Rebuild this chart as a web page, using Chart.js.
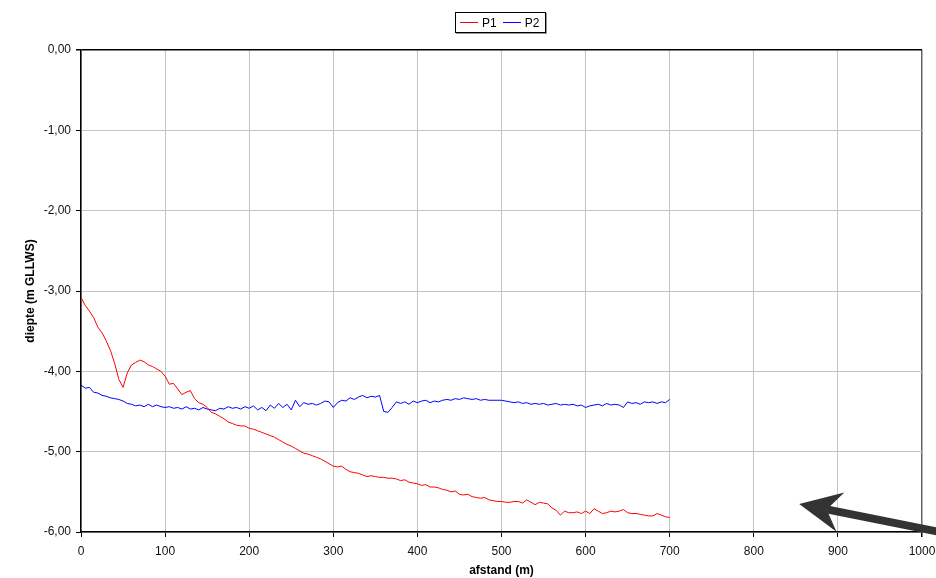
<!DOCTYPE html>
<html><head><meta charset="utf-8">
<script src="https://cdn.jsdelivr.net/npm/chart.js@4.4.0/dist/chart.umd.min.js"></script>
<style>
html,body{margin:0;padding:0;background:#fff;}
#wrap{position:relative;width:936px;height:578px;}
#legend{position:absolute;left:455px;top:12px;width:89px;height:19px;border:1px solid #000;box-shadow:1px 1px 0 #999;font-family:"Liberation Sans",Arial,sans-serif;font-size:12px;color:#000;display:flex;align-items:center;background:#fff;}
.item{display:flex;align-items:center;}
.sw{width:18px;height:0;border-top:1px solid;margin-right:4px;}
</style></head>
<body>
<div id="wrap">
<canvas id="c" width="936" height="578"></canvas>
<div id="legend">
  <div class="item" style="margin-left:4px"><span class="sw" style="border-color:#ff0000"></span><span>P1</span></div>
  <div class="item" style="margin-left:6px"><span class="sw" style="border-color:#0000ff"></span><span>P2</span></div>
</div>
</div>
<script>
const distances = [0,5,10,15,20,25,30,35,40,45,50,55,60,65,70,75,80,85,90,95,
100,105,110,115,120,125,130,135,140,145,150,155,160,165,170,175,180,185,190,195,
200,205,210,215,220,225,230,235,240,245,250,255,260,265,270,275,280,285,290,295,
300,305,310,315,320,325,330,335,340,345,350,355,360,365,370,375,380,385,390,395,
400,405,410,415,420,425,430,435,440,445,450,455,460,465,470,475,480,485,490,495,
500,505,510,515,520,525,530,535,540,545,550,555,560,565,570,575,580,585,590,595,
600,605,610,615,620,625,630,635,640,645,650,655,660,665,670,675,680,685,690,695,700];

const p1Depth = [-3.08,-3.18,-3.25,-3.33,-3.45,-3.52,-3.62,-3.74,-3.90,-4.10,-4.20,-4.02,-3.92,-3.89,-3.86,-3.88,-3.92,-3.94,-3.97,-4.00,
-4.06,-4.16,-4.15,-4.22,-4.29,-4.26,-4.24,-4.34,-4.39,-4.41,-4.45,-4.51,-4.53,-4.56,-4.59,-4.63,-4.65,-4.67,-4.68,-4.68,
-4.71,-4.72,-4.74,-4.76,-4.78,-4.80,-4.82,-4.85,-4.88,-4.91,-4.93,-4.96,-4.99,-5.02,-5.03,-5.05,-5.07,-5.09,-5.12,-5.15,
-5.18,-5.19,-5.18,-5.22,-5.25,-5.26,-5.27,-5.29,-5.31,-5.30,-5.31,-5.32,-5.32,-5.33,-5.33,-5.34,-5.36,-5.35,-5.38,-5.39,
-5.40,-5.42,-5.41,-5.44,-5.44,-5.45,-5.47,-5.48,-5.50,-5.49,-5.53,-5.54,-5.53,-5.56,-5.57,-5.58,-5.57,-5.60,-5.61,-5.62,
-5.62,-5.63,-5.63,-5.62,-5.62,-5.64,-5.60,-5.63,-5.66,-5.63,-5.64,-5.65,-5.70,-5.73,-5.79,-5.74,-5.76,-5.76,-5.75,-5.77,
-5.74,-5.77,-5.71,-5.74,-5.77,-5.76,-5.74,-5.75,-5.74,-5.72,-5.76,-5.77,-5.77,-5.78,-5.79,-5.80,-5.80,-5.77,-5.79,-5.81,-5.82];

const p2Depth = [-4.17,-4.21,-4.20,-4.26,-4.27,-4.30,-4.31,-4.33,-4.34,-4.35,-4.37,-4.40,-4.41,-4.43,-4.42,-4.44,-4.41,-4.44,-4.42,-4.44,
-4.45,-4.44,-4.46,-4.45,-4.47,-4.44,-4.47,-4.46,-4.48,-4.45,-4.47,-4.48,-4.49,-4.46,-4.47,-4.44,-4.46,-4.45,-4.47,-4.44,
-4.46,-4.43,-4.48,-4.45,-4.49,-4.42,-4.46,-4.40,-4.45,-4.41,-4.48,-4.36,-4.44,-4.39,-4.41,-4.40,-4.42,-4.40,-4.37,-4.38,
-4.45,-4.39,-4.36,-4.37,-4.33,-4.35,-4.32,-4.30,-4.33,-4.31,-4.32,-4.30,-4.50,-4.51,-4.45,-4.38,-4.40,-4.38,-4.41,-4.37,
-4.39,-4.37,-4.36,-4.39,-4.37,-4.38,-4.36,-4.35,-4.36,-4.34,-4.35,-4.33,-4.34,-4.35,-4.34,-4.36,-4.35,-4.36,-4.36,-4.36,
-4.36,-4.37,-4.38,-4.39,-4.38,-4.40,-4.39,-4.41,-4.40,-4.41,-4.40,-4.42,-4.41,-4.40,-4.42,-4.41,-4.42,-4.41,-4.43,-4.42,
-4.45,-4.43,-4.42,-4.41,-4.43,-4.40,-4.42,-4.41,-4.42,-4.45,-4.38,-4.40,-4.39,-4.41,-4.38,-4.39,-4.38,-4.40,-4.38,-4.39,-4.35];

const yTickLabels = {'-6':'-6,00','-5':'-5,00','-4':'-4,00','-3':'-3,00','-2':'-2,00','-1':'-1,00','0':'0,00'};
const xTickLabels = {0:'0',100:'100',200:'200',300:'300',400:'400',500:'500',600:'600',700:'700',800:'800',900:'900',1000:'1000'};
const arrowTip = [854, -5.65];
const arrowTail = [1040, -6.04];

const FONT = '"Liberation Sans", Arial, sans-serif';

const arrowPlugin = {
  id: 'arrow',
  afterDraw(chart) {
    const {ctx, scales: {x, y}} = chart;
    const tx = x.getPixelForValue(arrowTip[0]), ty = y.getPixelForValue(arrowTip[1]);
    const ex = x.getPixelForValue(arrowTail[0]), ey = y.getPixelForValue(arrowTail[1]);
    const ang = Math.atan2(ey - ty, ex - tx);
    const ux = Math.cos(ang), uy = Math.sin(ang), nx = -uy, ny = ux;
    const headLen = 42, headHalf = 20, notch = 28;
    ctx.save();
    ctx.fillStyle = '#333'; ctx.strokeStyle = '#333'; ctx.lineWidth = 8;
    ctx.beginPath();
    ctx.moveTo(tx + ux * notch, ty + uy * notch);
    ctx.lineTo(ex, ey);
    ctx.stroke();
    ctx.beginPath();
    ctx.moveTo(tx, ty);
    ctx.lineTo(tx + ux * headLen - nx * headHalf, ty + uy * headLen - ny * headHalf);
    ctx.lineTo(tx + ux * notch, ty + uy * notch);
    ctx.lineTo(tx + ux * headLen + nx * headHalf, ty + uy * headLen + ny * headHalf);
    ctx.closePath();
    ctx.fill();
    ctx.restore();
  }
};

new Chart(document.getElementById('c'), {
  type: 'scatter',
  data: {
    datasets: [
      { label: 'P1', data: distances.map((d, i) => ({x: d, y: p1Depth[i]})), showLine: true, borderColor: '#ff0000', borderWidth: 1, pointRadius: 0, tension: 0 },
      { label: 'P2', data: distances.map((d, i) => ({x: d, y: p2Depth[i]})), showLine: true, borderColor: '#0000ff', borderWidth: 1, pointRadius: 0, tension: 0 }
    ]
  },
  options: {
    responsive: false,
    animation: false,
    layout: { padding: { top: 50, right: 14, left: 0, bottom: 0 } },
    plugins: { legend: { display: false }, tooltip: { enabled: false } },
    scales: {
      x: {
        type: 'linear', min: 0, max: 1000,
        ticks: { stepSize: 100, padding: 7, color: '#111', font: { family: FONT, size: 12 }, maxRotation: 0, callback: v => xTickLabels[v] },
        grid: { color: c => c.tick && c.tick.value === 1000 ? '#666' : '#c4c4c4', lineWidth: c => c.tick && c.tick.value === 1000 ? 1.5 : 1, tickColor: '#000', tickLength: 5 },
        border: { color: '#000', width: 1.5 },
        title: { display: true, text: 'afstand (m)', color: '#000', font: { family: FONT, size: 12, weight: 'bold' }, padding: { top: 0, bottom: 0 } },
        afterFit: s => { s.height = 46; s.paddingRight = 0; }
      },
      y: {
        type: 'linear', min: -6, max: 0,
        ticks: { stepSize: 1, padding: 5, color: '#111', font: { family: FONT, size: 12 }, callback: v => yTickLabels[String(v)] },
        grid: { color: c => c.tick && c.tick.value === 0 ? '#000' : '#c4c4c4', lineWidth: c => c.tick && c.tick.value === 0 ? 1.5 : 1, tickColor: '#000', tickLength: 5 },
        border: { color: '#000', width: 1.5 },
        title: { display: true, text: 'diepte (m GLLWS)', color: '#000', font: { family: FONT, size: 12, weight: 'bold' }, padding: { top: 23, bottom: 0 } },
        afterFit: s => { s.width = 81; s.paddingTop = 0; s.paddingBottom = 0; }
      }
    }
  },
  plugins: [arrowPlugin]
});
</script>
</body></html>
